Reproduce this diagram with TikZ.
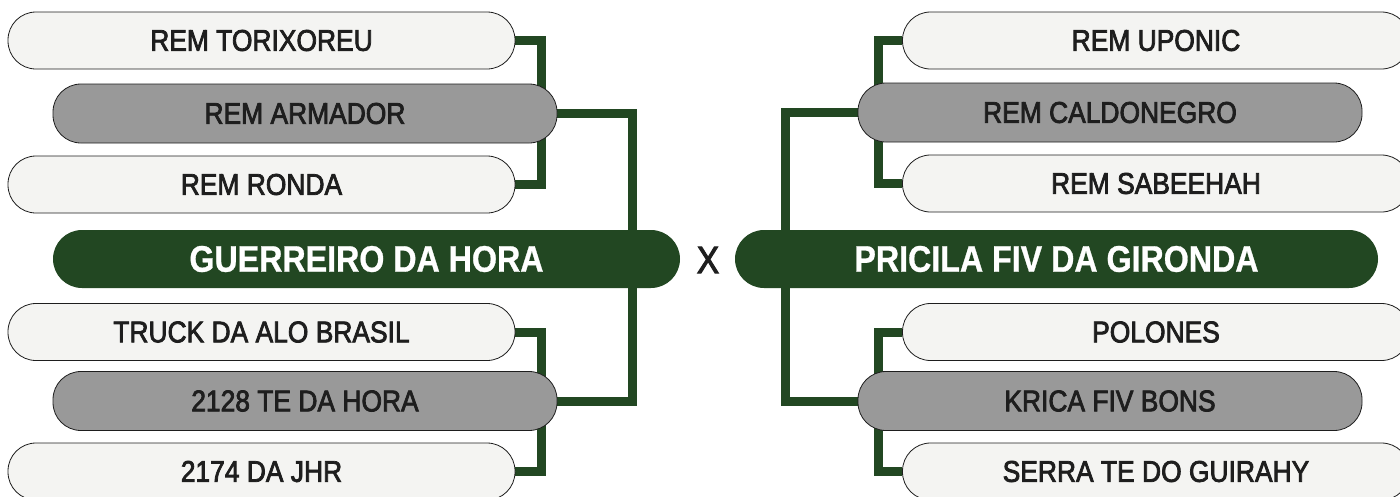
\documentclass[tikz,border=0pt]{standalone}
\usepackage{fontspec}
\setmainfont{Liberation Sans}
\newfontfamily\boxfont[FakeStretch=0.88,FakeBold=2.5]{Liberation Sans}
\newfontfamily\mainfont[FakeStretch=0.87,FakeBold=0.8]{Liberation Sans Bold}
\usepackage{tikz}
\usetikzlibrary{positioning,calc}
\definecolor{darkgreen}{HTML}{224722}
\definecolor{pillgray}{HTML}{999999}
\definecolor{pillwhite}{HTML}{F4F4F2}
\definecolor{inkdark}{HTML}{1E1E1E}
\pgfdeclarelayer{bg}
\pgfsetlayers{bg,main}

\begin{document}
\begin{tikzpicture}[x=1pt, y=1pt,
    pill/.style={draw=inkdark, line width=0.8pt, rounded corners=28pt, minimum width=507pt,
                 minimum height=57pt, inner sep=0pt, text=inkdark, font=\boxfont\fontsize{30}{30}\selectfont},
    wpill/.style={pill, fill=pillwhite},
    gpill/.style={pill, fill=pillgray, minimum width=504pt, minimum height=59pt},
    team/.style={rounded corners=29pt, fill=darkgreen, minimum height=58pt, inner sep=0pt,
                 text=white, font=\mainfont\fontsize{37}{37}\selectfont},
    link/.style={draw=darkgreen, line width=9pt}
]
\useasboundingbox (0,0) rectangle (1400,-496);
% left side
\node[wpill] (tor)   at (261.5,-40.5) {REM TORIXOREU};
\node[gpill] (arm)   at (305,-113.5)  {REM ARMADOR};
\node[wpill] (ron)   at (261.5,-184.5) {REM RONDA};
\node[team, minimum width=627pt] (gue) at (366.5,-259) {GUERREIRO DA HORA};
\node[wpill] (tru)   at (261.5,-332)  {TRUCK DA ALO BRASIL};
\node[gpill] (t2128) at (305,-401)    {2128 TE DA HORA};
\node[wpill] (jhr)   at (261.5,-471.5) {2174 DA JHR};
% right side
\node[wpill] (upo)   at (1156,-40.5)  {REM UPONIC};
\node[gpill] (cal)   at (1110,-112.5) {REM CALDONEGRO};
\node[wpill] (sab)   at (1156,-183.5) {REM SABEEHAH};
\node[team, minimum width=643pt] (pri) at (1056.5,-259) {PRICILA FIV DA GIRONDA};
\node[wpill] (pol)   at (1156,-332)   {POLONES};
\node[gpill] (kri)   at (1110,-401)   {KRICA FIV BONS};
\node[wpill] (ser)   at (1156,-471.5) {SERRA TE DO GUIRAHY};
\node[text=inkdark, font=\boxfont\fontsize{38}{38}\selectfont] (vs) at (708,-260) {X};
% brackets behind the pills
\begin{pgfonlayer}{bg}
\draw[link] (tor.east) -- ++(26,0) |- (ron.east);
\draw[link] (tru.east) -- ++(26,0) |- (jhr.east);
\draw[link] (arm.east) -| ([xshift=-48pt]gue.east);
\draw[link] (t2128.east) -| ([xshift=-48pt]gue.east);
\draw[link] (upo.west) -- ++(-24,0) |- (sab.west);
\draw[link] (pol.west) -- ++(-24,0) |- (ser.west);
\draw[link] (cal.west) -| ([xshift=51pt]pri.west);
\draw[link] (kri.west) -| ([xshift=51pt]pri.west);
\end{pgfonlayer}
\end{tikzpicture}
\end{document}
